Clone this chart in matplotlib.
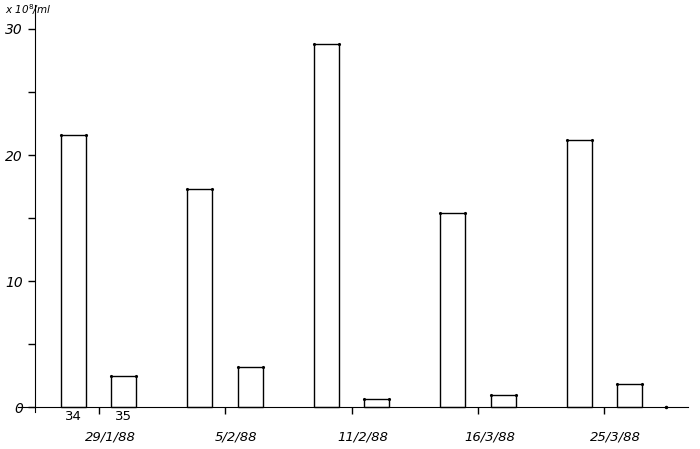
import numpy as np
import matplotlib.pyplot as plt

dates = ['29/1/88', '5/2/88', '11/2/88', '16/3/88', '25/3/88']
first = [21.6, 17.3, 28.8, 15.4, 21.2]
second = [2.5, 3.2, 0.65, 0.95, 1.8]
pair_labels = ['34', '35']
yticks = [0, 10, 20, 30]
yticks_minor = [5, 15, 25]

x = np.arange(len(dates))
w = 0.2

fig = plt.figure(figsize=(7, 4.49), dpi=100)
ax = fig.add_axes([0, 0, 1, 1])
ax.set_xlim(-0.779, 4.755)
ax.set_ylim(-3.33, 32.3)

ax.bar(x - w, first, width=w, facecolor='white', edgecolor='black', linewidth=1.0)
ax.bar(x + w, second, width=w, facecolor='white', edgecolor='black', linewidth=1.0)

# little pen dots at the top corners of each bar
for pos, vals in [(x - w, first), (x + w, second)]:
    for xi, v in zip(pos, vals):
        ax.plot([xi - w / 2, xi + w / 2], [v, v], 'k.', ms=2.5)

# axes drawn like a hand sketch
for s in ['top', 'right']:
    ax.spines[s].set_visible(False)
ax.spines['left'].set_position(('data', -0.5))
ax.spines['left'].set_bounds(-0.4, 31.9)
ax.spines['bottom'].set_position(('data', 0))
ax.spines['bottom'].set_bounds(-0.635, 4.66)
ax.plot([4.49], [0], 'k.', ms=3)

ax.set_yticks(yticks)
ax.set_yticks(yticks_minor, minor=True)
ax.set_yticklabels([str(t) for t in yticks], fontsize=10, style='italic')
ax.tick_params(axis='y', which='both', direction='out', length=5, width=1, pad=4)
ax.set_xticks(x)
ax.set_xticklabels([])
ax.tick_params(axis='x', direction='out', length=5, width=1)

for i, d in enumerate(dates):
    ax.text(x[i] + 0.09, -2.35, d, ha='center', va='center', fontsize=9.5, style='italic')
ax.text(x[0] - w, -0.75, pair_labels[0], ha='center', va='center', fontsize=9.5)
ax.text(x[0] + w, -0.75, pair_labels[1], ha='center', va='center', fontsize=9.5)

ax.text(-0.74, 31.5, 'x 10$^8$/ml', ha='left', va='center', fontsize=7.5, style='italic')

fig.savefig('out.png', dpi=100)
